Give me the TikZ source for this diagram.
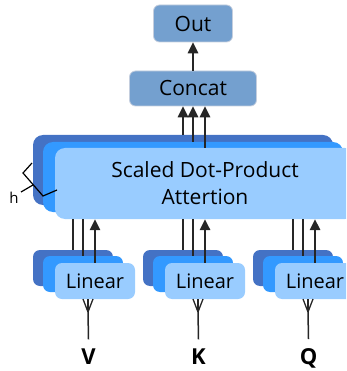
\documentclass[tikz,border=0pt]{standalone}
\usepackage{fontspec}
\setmainfont{Open Sans}
\usetikzlibrary{arrows.meta}
\definecolor{cOut}{RGB}{116,160,207}
\definecolor{cEdge}{RGB}{196,206,222}
\definecolor{cBack}{RGB}{68,114,196}
\definecolor{cMid}{RGB}{51,153,255}
\definecolor{cFront}{RGB}{153,204,255}
\definecolor{cLine}{RGB}{38,38,38}
\tikzset{
  box/.style={rounded corners=6pt, inner sep=0pt, text=black, font=\fontsize{21}{27}\selectfont},
  outbox/.style={box, fill=cOut, draw=cEdge, line width=0.8pt},
  attlayer/.style={rounded corners=10pt, inner sep=0pt, minimum width=300pt, minimum height=70pt},
  linlayer/.style={rounded corners=7pt, inner sep=0pt, minimum width=80pt, minimum height=36pt, text=black, font=\fontsize{20}{24}\selectfont},
  ln/.style={draw=cLine, line width=1.6pt},
  arr/.style={ln, -{Triangle[width=10.5pt,length=11pt]}},
  thin/.style={draw=black, line width=1.2pt},
  inlab/.style={anchor=base, inner sep=0pt, outer ysep=9pt, font=\fontsize{22}{26}\selectfont\bfseries}
}
\begin{document}
\begin{tikzpicture}[x=1pt,y=-1pt]
\useasboundingbox (0,0) rectangle (346,371);
\clip (0,0) rectangle (346,371);
% top boxes
\node[outbox, minimum width=79pt, minimum height=37pt] (out) at (193,23.5) {Out};
\node[outbox, minimum width=127pt, minimum height=35pt] (concat) at (193,88.5) {Concat};
% attention layers
\node[attlayer, fill=cBack] (attB) at (183,170) {};
\node[attlayer, fill=cMid] (attM) at (193,177) {};
\node[attlayer, fill=cFront, minimum height=71pt, align=center, text=black, font=\fontsize{21}{27}\selectfont] (attF) at (205,183.5) {Scaled Dot-Product\\Attertion};
% h brace
\draw[thin, line join=miter] (32,163) -- (23,173) -- (43,196) -- (57,190);
\coordinate (htip) at (33,185);
\node[anchor=base, inner sep=0pt, font=\fontsize{15}{18}\selectfont] (hlab) at (14,203) {h};
\draw[thin] (htip) -- (21,192);
% arrows to concat and out
\draw[arr] (attB.north) -- (attB.north |- concat.south);
\draw[arr] (attM.north) -- (attM.north |- concat.south);
\draw[arr] (attF.north) -- (attF.north |- concat.south);
\draw[arr] (concat.north) -- (out.south);
% linear groups
\foreach \g/\dx in {V/0, K/110, Q/220} {
  \node[linlayer, fill=cBack] (lin\g b) at (73+\dx,268) {};
  \node[linlayer, fill=cMid] (lin\g m) at (83+\dx,274) {};
  \node[linlayer, fill=cFront] (lin\g f) at (95+\dx,281) {Linear};
  \draw[ln] (lin\g b.north) -- (lin\g b.north |- attF.south);
  \draw[ln] (lin\g m.north) -- (lin\g m.north |- attF.south);
  \draw[arr] (lin\g f.north) -- (lin\g f.north |- attF.south);
  \coordinate (fork\g) at (88+\dx,312);
  \coordinate (pl\g) at (83+\dx,299);
  \coordinate (pc\g) at (88+\dx,299);
  \coordinate (pr\g) at (93+\dx,299);
  \node[inlab] (lab\g) at (88.5+\dx,364) {\g};
  \draw[ln, line width=1.5pt] (lab\g.north) -- (fork\g);
  \draw[ln, line width=1.3pt] (fork\g) -- (pl\g);
  \draw[ln, line width=1.3pt] (fork\g) -- (pc\g);
  \draw[ln, line width=1.3pt] (fork\g) -- (pr\g);
}
\end{tikzpicture}
\end{document}
